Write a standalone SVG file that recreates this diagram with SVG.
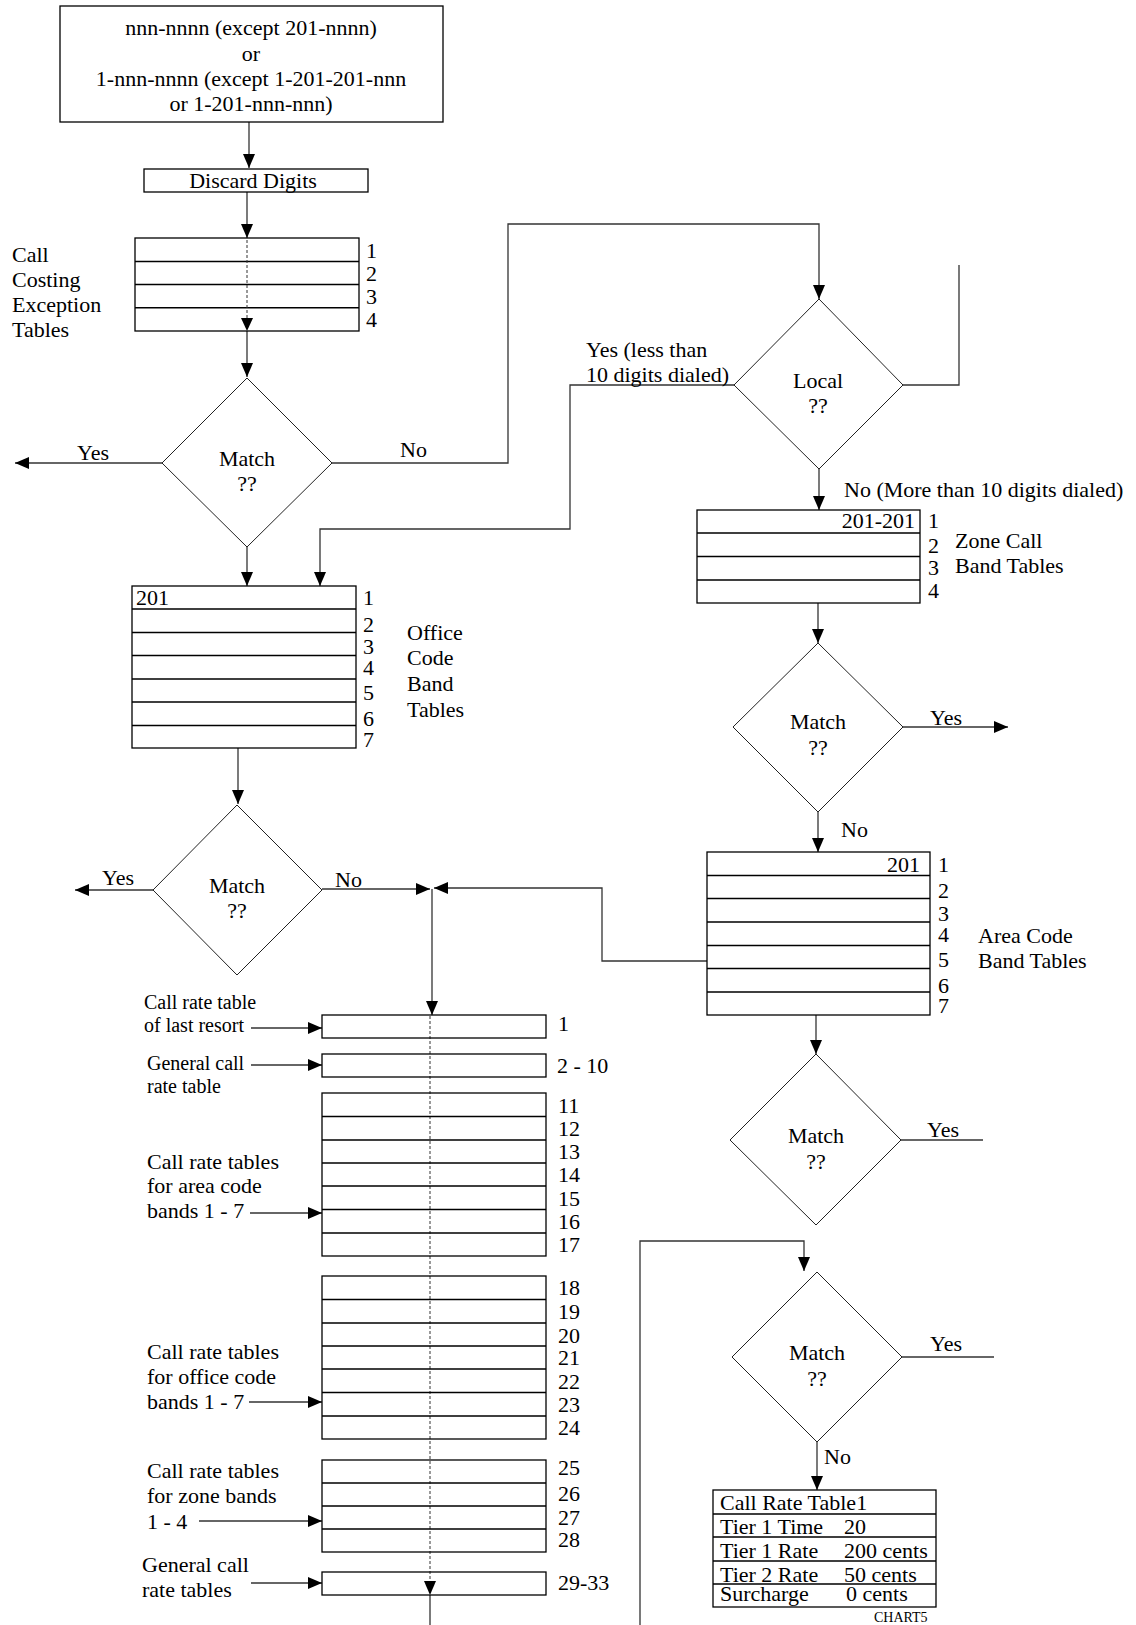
<svg xmlns="http://www.w3.org/2000/svg" width="1136" height="1625" viewBox="0 0 1136 1625">
<defs>
<style>
.t{font-family:"Liberation Serif","Times New Roman",serif;font-size:22px;fill:#000}
.s{font-size:20px}
.xs{font-size:14px}
.c{text-anchor:middle}
.e{text-anchor:end}
.box{fill:#fff;stroke:#000;stroke-width:1.3}
.row{stroke:#000;stroke-width:1.3}
.dia{fill:#fff;stroke:#222;stroke-width:1}
.con{fill:none;stroke:#333;stroke-width:1.3}
.dot{fill:none;stroke:#333;stroke-width:1;stroke-dasharray:3 2}
</style>
<marker id="ah" viewBox="0 0 14 12" refX="14" refY="6" markerWidth="14" markerHeight="12" markerUnits="userSpaceOnUse" orient="auto">
<path d="M0,0 L14,6 L0,12 Z" fill="#000"/>
</marker>
</defs>
<rect width="1136" height="1625" fill="#fff"/>

<g id="connectors">
<path class="con" d="M249,122 V168" marker-end="url(#ah)"/>
<path class="con" d="M247,192 V238" marker-end="url(#ah)"/>
<path class="con" d="M247,331 V377" marker-end="url(#ah)"/>
<path class="con" d="M162,463 H15" marker-end="url(#ah)"/>
<path class="con" d="M332,463 H508 V224 H819 V299" marker-end="url(#ah)"/>
<path class="con" d="M903,385 H959 V265"/>
<path class="con" d="M734,385 H570 V529 H320 V586" marker-end="url(#ah)"/>
<path class="con" d="M819,469 V510" marker-end="url(#ah)"/>
<path class="con" d="M247,547 V586" marker-end="url(#ah)"/>
<path class="con" d="M238,748 V804" marker-end="url(#ah)"/>
<path class="con" d="M153,890 H75" marker-end="url(#ah)"/>
<path class="con" d="M322,889 H430" marker-end="url(#ah)"/>
<path class="con" d="M707,961 H602 V888 H434" marker-end="url(#ah)"/>
<path class="con" d="M432,889 V1015" marker-end="url(#ah)"/>
<path class="con" d="M818,603 V643" marker-end="url(#ah)"/>
<path class="con" d="M903,727 H1008" marker-end="url(#ah)"/>
<path class="con" d="M818,812 V852" marker-end="url(#ah)"/>
<path class="con" d="M816,1015 V1054" marker-end="url(#ah)"/>
<path class="con" d="M901,1140 H983"/>
<path class="con" d="M640,1625 V1241 H804 V1271" marker-end="url(#ah)"/>
<path class="con" d="M902,1357 H994"/>
<path class="con" d="M817,1442 V1490" marker-end="url(#ah)"/>
<path class="con" d="M251,1028 H322" marker-end="url(#ah)"/>
<path class="con" d="M251,1065 H322" marker-end="url(#ah)"/>
<path class="con" d="M250,1213 H322" marker-end="url(#ah)"/>
<path class="con" d="M249,1402 H322" marker-end="url(#ah)"/>
<path class="con" d="M199,1521 H322" marker-end="url(#ah)"/>
<path class="con" d="M251,1583 H322" marker-end="url(#ah)"/>
<path class="con" d="M430,1595 V1625"/>
</g>

<g id="start">
<rect class="box" x="60" y="6" width="383" height="116"/>
<text class="t c" x="251" y="35">nnn-nnnn (except 201-nnnn)</text>
<text class="t c" x="251" y="61">or</text>
<text class="t c" x="251" y="86">1-nnn-nnnn (except 1-201-201-nnn</text>
<text class="t c" x="251" y="111">or 1-201-nnn-nnn)</text>
</g>

<g id="discard">
<rect class="box" x="144" y="169" width="224" height="23"/>
<text class="t c" x="253" y="188">Discard Digits</text>
</g>

<g id="exception-tables">
<rect class="box" x="135" y="238" width="224" height="93"/>
<path class="row" d="M135,261.5 H359 M135,284.5 H359 M135,307.75 H359"/>
<text class="t" x="366" y="258">1</text>
<text class="t" x="366" y="281">2</text>
<text class="t" x="366" y="304">3</text>
<text class="t" x="366" y="327">4</text>
<text class="t" x="12" y="262">Call</text>
<text class="t" x="12" y="287">Costing</text>
<text class="t" x="12" y="312">Exception</text>
<text class="t" x="12" y="337">Tables</text>
<path class="dot" d="M247,240 V318"/>
<path d="M241,318 L253,318 L247,331 Z" fill="#000"/>
</g>

<g id="match1">
<polygon class="dia" points="247,378 332,463 247,547 162,463"/>
<text class="t c" x="247" y="466">Match</text>
<text class="t c" x="247" y="491">??</text>
<text class="t" x="77" y="460">Yes</text>
<text class="t" x="400" y="457">No</text>
</g>

<g id="local">
<polygon class="dia" points="819,299 903,385 819,469 734,385"/>
<text class="t c" x="818" y="388">Local</text>
<text class="t c" x="818" y="413">??</text>
<text class="t" x="586" y="357">Yes (less than</text>
<text class="t" x="586" y="382">10 digits dialed)</text>
<text class="t" x="844" y="497">No (More than 10 digits dialed)</text>
</g>

<g id="zone-tables">
<rect class="box" x="697" y="510" width="223" height="93"/>
<path class="row" d="M697,533 H920 M697,556.5 H920 M697,580 H920"/>
<text class="t e" x="915" y="528">201-201</text>
<text class="t" x="928" y="528">1</text>
<text class="t" x="928" y="553">2</text>
<text class="t" x="928" y="575">3</text>
<text class="t" x="928" y="598">4</text>
<text class="t" x="955" y="548">Zone Call</text>
<text class="t" x="955" y="573">Band Tables</text>
</g>

<g id="office-tables">
<rect class="box" x="132" y="586" width="224" height="162"/>
<path class="row" d="M132,609 H356 M132,632.5 H356 M132,655.5 H356 M132,679 H356 M132,702 H356 M132,725.5 H356"/>
<text class="t" x="136" y="605">201</text>
<text class="t" x="363" y="605">1</text>
<text class="t" x="363" y="632">2</text>
<text class="t" x="363" y="654">3</text>
<text class="t" x="363" y="675">4</text>
<text class="t" x="363" y="700">5</text>
<text class="t" x="363" y="726">6</text>
<text class="t" x="363" y="747">7</text>
<text class="t" x="407" y="640">Office</text>
<text class="t" x="407" y="665">Code</text>
<text class="t" x="407" y="691">Band</text>
<text class="t" x="407" y="717">Tables</text>
</g>

<g id="match3">
<polygon class="dia" points="818,643 903,727 818,812 733,727"/>
<text class="t c" x="818" y="729">Match</text>
<text class="t c" x="818" y="755">??</text>
<text class="t" x="930" y="725">Yes</text>
<text class="t" x="841" y="837">No</text>
</g>

<g id="match2">
<polygon class="dia" points="237,805 322,890 237,975 153,890"/>
<text class="t c" x="237" y="893">Match</text>
<text class="t c" x="237" y="918">??</text>
<text class="t" x="102" y="885">Yes</text>
<text class="t" x="335" y="887">No</text>
</g>

<g id="area-tables">
<rect class="box" x="707" y="852" width="223" height="163"/>
<path class="row" d="M707,875.5 H930 M707,898.5 H930 M707,922 H930 M707,945.5 H930 M707,968.5 H930 M707,992 H930"/>
<text class="t e" x="920" y="872">201</text>
<text class="t" x="938" y="872">1</text>
<text class="t" x="938" y="898">2</text>
<text class="t" x="938" y="921">3</text>
<text class="t" x="938" y="942">4</text>
<text class="t" x="938" y="967">5</text>
<text class="t" x="938" y="993">6</text>
<text class="t" x="938" y="1013">7</text>
<text class="t" x="978" y="943">Area Code</text>
<text class="t" x="978" y="968">Band Tables</text>
</g>

<g id="rate-tables">
<path class="dot" d="M430,1016 V1581"/>
<path d="M424,1581 L436,1581 L430,1595 Z" fill="#000"/>
<rect class="box" x="322" y="1015" width="224" height="23" fill-opacity="0"/>
<rect class="box" x="322" y="1054" width="224" height="23" fill-opacity="0"/>
<rect class="box" x="322" y="1093" width="224" height="163" fill-opacity="0"/>
<path class="row" d="M322,1116.5 H546 M322,1140 H546 M322,1163 H546 M322,1186 H546 M322,1209.5 H546 M322,1233 H546"/>
<rect class="box" x="322" y="1276" width="224" height="163" fill-opacity="0"/>
<path class="row" d="M322,1299.5 H546 M322,1323 H546 M322,1346 H546 M322,1369 H546 M322,1392.5 H546 M322,1416 H546"/>
<rect class="box" x="322" y="1460" width="224" height="92" fill-opacity="0"/>
<path class="row" d="M322,1483 H546 M322,1506 H546 M322,1529 H546"/>
<rect class="box" x="322" y="1572" width="224" height="23" fill-opacity="0"/>
<text class="t" x="558" y="1031">1</text>
<text class="t" x="557" y="1073">2 - 10</text>
<text class="t" x="558" y="1113">11</text>
<text class="t" x="558" y="1136">12</text>
<text class="t" x="558" y="1159">13</text>
<text class="t" x="558" y="1182">14</text>
<text class="t" x="558" y="1206">15</text>
<text class="t" x="558" y="1229">16</text>
<text class="t" x="558" y="1252">17</text>
<text class="t" x="558" y="1295">18</text>
<text class="t" x="558" y="1319">19</text>
<text class="t" x="558" y="1343">20</text>
<text class="t" x="558" y="1365">21</text>
<text class="t" x="558" y="1389">22</text>
<text class="t" x="558" y="1412">23</text>
<text class="t" x="558" y="1435">24</text>
<text class="t" x="558" y="1475">25</text>
<text class="t" x="558" y="1501">26</text>
<text class="t" x="558" y="1525">27</text>
<text class="t" x="558" y="1547">28</text>
<text class="t" x="558" y="1590">29-33</text>
<text class="t s" x="144" y="1009">Call rate table</text>
<text class="t s" x="144" y="1032">of last resort</text>
<text class="t s" x="147" y="1070">General call</text>
<text class="t s" x="147" y="1093">rate table</text>
<text class="t" x="147" y="1169">Call rate tables</text>
<text class="t" x="147" y="1193">for area code</text>
<text class="t" x="147" y="1218">bands 1 - 7</text>
<text class="t" x="147" y="1359">Call rate tables</text>
<text class="t" x="147" y="1384">for office code</text>
<text class="t" x="147" y="1409">bands 1 - 7</text>
<text class="t" x="147" y="1478">Call rate tables</text>
<text class="t" x="147" y="1503">for zone bands</text>
<text class="t" x="147" y="1529">1 - 4</text>
<text class="t" x="142" y="1572">General call</text>
<text class="t" x="142" y="1597">rate tables</text>
</g>

<g id="match4">
<polygon class="dia" points="816,1054 901,1140 816,1225 730,1140"/>
<text class="t c" x="816" y="1143">Match</text>
<text class="t c" x="816" y="1169">??</text>
<text class="t" x="927" y="1137">Yes</text>
</g>

<g id="match5">
<polygon class="dia" points="817,1272 902,1357 817,1442 732,1357"/>
<text class="t c" x="817" y="1360">Match</text>
<text class="t c" x="817" y="1386">??</text>
<text class="t" x="930" y="1351">Yes</text>
<text class="t" x="824" y="1464">No</text>
</g>

<g id="call-rate-table1">
<rect class="box" x="713" y="1490" width="223" height="117"/>
<path class="row" d="M713,1514 H936 M713,1537 H936 M713,1561 H936 M713,1584 H936"/>
<text class="t" x="720" y="1510">Call Rate Table1</text>
<text class="t" x="720" y="1534">Tier 1 Time</text>
<text class="t" x="844" y="1534">20</text>
<text class="t" x="720" y="1558">Tier 1 Rate</text>
<text class="t" x="844" y="1558">200 cents</text>
<text class="t" x="720" y="1582">Tier 2 Rate</text>
<text class="t" x="844" y="1582">50 cents</text>
<text class="t" x="720" y="1601">Surcharge</text>
<text class="t" x="846" y="1601">0 cents</text>
<text class="t xs" x="874" y="1622">CHART5</text>
</g>
</svg>
